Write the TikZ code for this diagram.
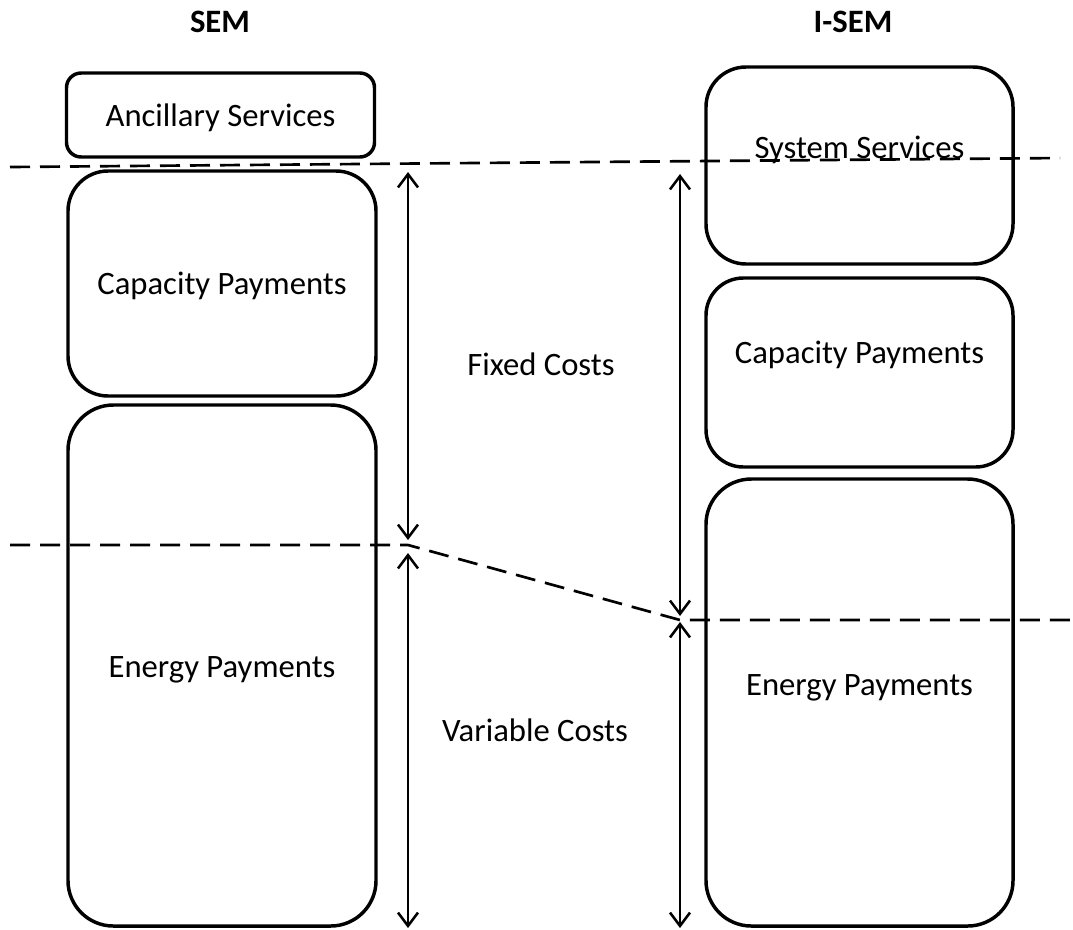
\documentclass[tikz,border=0pt]{standalone}
\usepackage{fontspec}
\setmainfont{Carlito}
\usetikzlibrary{arrows.meta}
\begin{document}
\begin{tikzpicture}[x=0.75pt,y=-0.75pt,
  every node/.style={font=\fontsize{24.5}{29}\selectfont, inner sep=0pt},
  box/.style={draw, line width=2.6pt, minimum width=231pt},
  cut/.style={line width=2pt, dash pattern=on 15pt off 7.5pt},
  span/.style={line width=1.9pt, {Straight Barb[length=10pt,width=15pt]}-{Straight Barb[length=10pt,width=15pt]}},
  title/.style={font=\fontsize{24.5}{29}\selectfont\bfseries}]
\useasboundingbox (0,0) rectangle (1073,929);
% titles
\node[title] (tsem) at (220,22) {SEM};
\node[title] (tisem) at (853,22) {I-SEM};
% SEM boxes
\node[box, rounded corners=11pt, minimum height=63pt,
  label={[yshift=-2pt]center:Ancillary Services}] (anc) at (220.5,115) {};
\node[box, rounded corners=30pt, minimum height=168.75pt,
  label={[yshift=-2pt]center:Capacity Payments}] (capS) at (222,283.5) {};
\node[box, rounded corners=34pt, minimum height=390.75pt,
  label={[yshift=-3pt]center:Energy Payments}] (enS) at (222,665.5) {};
% I-SEM boxes
\node[box, rounded corners=30pt, minimum width=230.25pt, minimum height=147.75pt,
  label={[yshift=12pt]center:System Services}] (sys) at (859.5,165.5) {};
\node[box, rounded corners=28pt, minimum width=230.25pt, minimum height=141.75pt,
  label={[yshift=13pt]center:Capacity Payments}] (capI) at (859.5,372.5) {};
\node[box, rounded corners=34pt, minimum width=230.25pt, minimum height=335.25pt,
  label={[yshift=11pt]center:Energy Payments}] (enI) at (859.5,702.5) {};
% dashed cut lines
\coordinate (t1) at (10,167);
\coordinate (t2) at (1060,158);
\coordinate (m1) at (10,545);
\coordinate (m2) at (408,545);
\coordinate (m3) at (680,620);
\coordinate (m4) at (1073,620);
\draw[cut] (t1) -- (t2);
\draw[cut] (m1) -- (m2) -- (m3) -- (m4);
% spans
\coordinate (a1) at (408,172);
\coordinate (a2) at (408,540);
\coordinate (a3) at (408,553);
\coordinate (a4) at (408,928);
\coordinate (b1) at (680,174);
\coordinate (b2) at (680,616);
\coordinate (b3) at (680,622);
\coordinate (b4) at (680,928);
\draw[span] (a1) -- (a2);
\draw[span] (a3) -- (a4);
\draw[span] (b1) -- (b2);
\draw[span] (b3) -- (b4);
% cost labels
\node (fixed) at (541,364) {Fixed Costs};
\node (var) at (535,730) {Variable Costs};
\end{tikzpicture}
\end{document}
